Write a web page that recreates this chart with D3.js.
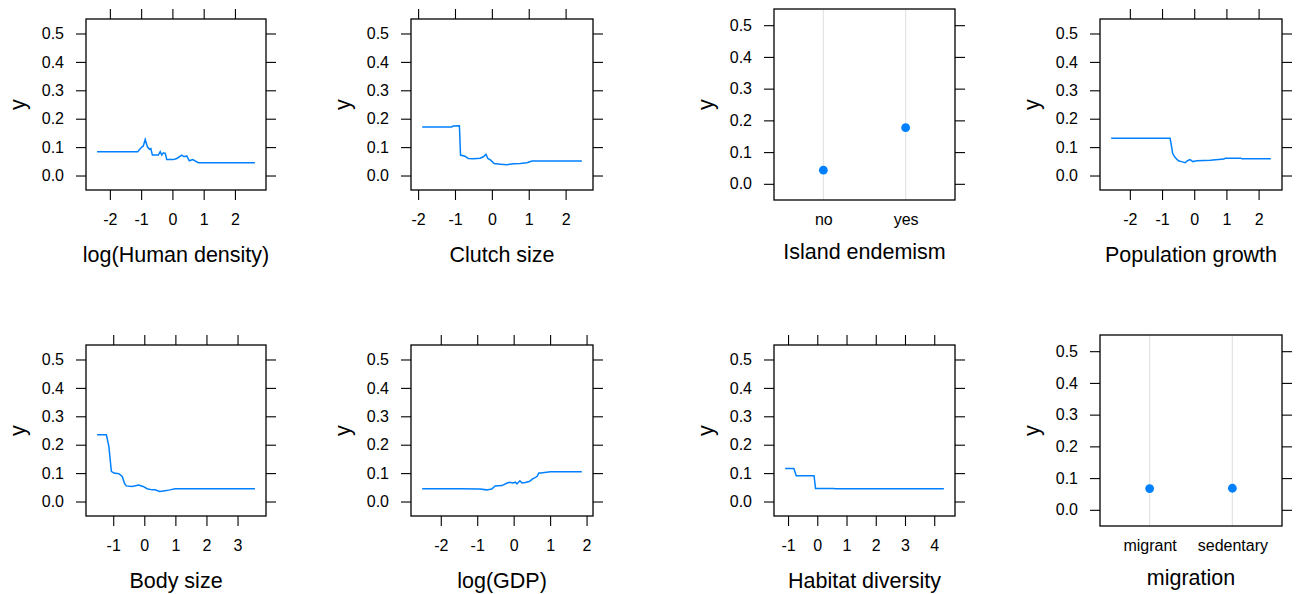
<!DOCTYPE html>
<html>
<head>
<meta charset="utf-8">
<script src="https://cdn.jsdelivr.net/npm/d3@7"></script>
<style>
  body { margin: 0; background: #fff; }
  svg { font-family: "Liberation Sans", Arial, sans-serif; }
</style>
</head>
<body>
<svg width="1298" height="594"></svg>
<script>
// y axis shared by all panels
const yTicks = [0, 0.1, 0.2, 0.3, 0.4, 0.5];
const yLimits = [-0.051, 0.551];

// partial dependence curves
const humanDensityX = [-2.41, -1.11, -0.98, -0.93, -0.87, -0.8, -0.74, -0.69, -0.64, -0.45, -0.39, -0.34, -0.29, -0.23, -0.18, 0.03, 0.14, 0.30, 0.37, 0.46, 0.54, 0.65, 0.83, 2.64];
const humanDensityY = [0.084, 0.084, 0.100, 0.104, 0.127, 0.101, 0.093, 0.095, 0.072, 0.072, 0.084, 0.072, 0.080, 0.078, 0.056, 0.056, 0.060, 0.072, 0.066, 0.069, 0.052, 0.056, 0.045, 0.045];

const clutchX = [-1.89, -1.09, -1.05, -0.88, -0.85, -0.73, -0.64, -0.5, -0.32, -0.23, -0.16, -0.11, -0.03, 0.06, 0.23, 0.41, 0.59, 0.77, 0.95, 1.09, 2.44];
const clutchY = [0.171, 0.171, 0.174, 0.175, 0.072, 0.068, 0.060, 0.059, 0.061, 0.066, 0.075, 0.060, 0.054, 0.042, 0.040, 0.038, 0.041, 0.042, 0.045, 0.051, 0.051];

const popGrowthX = [-2.58, -0.75, -0.72, -0.67, -0.6, -0.49, -0.37, -0.28, -0.21, -0.13, -0.04, 0.08, 0.5, 0.92, 0.97, 1.44, 1.49, 2.38];
const popGrowthY = [0.131, 0.131, 0.113, 0.078, 0.064, 0.052, 0.048, 0.045, 0.052, 0.056, 0.049, 0.052, 0.054, 0.058, 0.061, 0.061, 0.059, 0.059];

const bodySizeX = [-1.52, -1.22, -1.14, -1.06, -0.98, -0.82, -0.71, -0.64, -0.58, -0.39, -0.18, -0.04, 0.09, 0.25, 0.35, 0.49, 0.67, 0.83, 0.99, 3.56];
const bodySizeY = [0.235, 0.235, 0.194, 0.106, 0.100, 0.098, 0.088, 0.065, 0.055, 0.053, 0.058, 0.053, 0.045, 0.041, 0.041, 0.035, 0.038, 0.041, 0.045, 0.045];

const gdpX = [-2.51, -1.47, -0.92, -0.74, -0.6, -0.51, -0.32, -0.18, -0.11, -0.02, 0.05, 0.09, 0.17, 0.23, 0.32, 0.44, 0.51, 0.6, 0.64, 0.69, 0.75, 0.85, 1.01, 1.87];
const gdpY = [0.045, 0.045, 0.044, 0.041, 0.044, 0.055, 0.056, 0.065, 0.068, 0.065, 0.068, 0.062, 0.073, 0.065, 0.067, 0.071, 0.079, 0.085, 0.088, 0.100, 0.100, 0.102, 0.105, 0.105];

const habitatX = [-1.1, -0.8, -0.72, -0.11, -0.06, 0.57, 0.59, 4.33];
const habitatY = [0.116, 0.116, 0.091, 0.091, 0.046, 0.046, 0.045, 0.045];

// factor effects
const islandLevels = ["no", "yes"];
const islandY = [0.043, 0.177];
const migrationLevels = ["migrant", "sedentary"];
const migrationY = [0.067, 0.068];

// x tick labels per continuous panel
const humanDensityTicks = [-2, -1, 0, 1, 2];
const clutchTicks = [-2, -1, 0, 1, 2];
const popGrowthTicks = [-2, -1, 0, 1, 2];
const bodySizeTicks = [-1, 0, 1, 2, 3];
const gdpTicks = [-2, -1, 0, 1, 2];
const habitatTicks = [-1, 0, 1, 2, 3, 4];

const blue = "#0080ff";
const tickLen = 10;

const panels = [
  { title: "log(Human density)", xs: humanDensityX, ys: humanDensityY, ticks: humanDensityTicks, box: [86, 19, 266, 190] },
  { title: "Clutch size", xs: clutchX, ys: clutchY, ticks: clutchTicks, box: [411, 19, 593, 190] },
  { title: "Island endemism", levels: islandLevels, ys: islandY, box: [774, 9, 955, 200] },
  { title: "Population growth", xs: popGrowthX, ys: popGrowthY, ticks: popGrowthTicks, box: [1100, 19, 1282, 190] },
  { title: "Body size", xs: bodySizeX, ys: bodySizeY, ticks: bodySizeTicks, box: [86, 345, 266, 516] },
  { title: "log(GDP)", xs: gdpX, ys: gdpY, ticks: gdpTicks, box: [411, 345, 593, 516] },
  { title: "Habitat diversity", xs: habitatX, ys: habitatY, ticks: habitatTicks, box: [774, 345, 955, 516] },
  { title: "migration", levels: migrationLevels, ys: migrationY, box: [1100, 335, 1282, 526] }
];

const svg = d3.select("svg");
const fmtX = d => String(d);
const fmtY = d3.format(".1f");

panels.forEach(p => {
  const [x0, y0, x1, y1] = p.box;
  const w = x1 - x0, h = y1 - y0;
  const g = svg.append("g").attr("transform", `translate(${x0},${y0})`);
  const y = d3.scaleLinear().domain(yLimits).range([h, 0]);
  const isFactor = !!p.levels;

  let x;
  if (isFactor) {
    x = d3.scalePoint().domain(p.levels).range([0, w]).padding(0.6);
    // light reference lines at each level
    g.selectAll(".ref").data(p.levels).enter().append("line")
      .attr("x1", d => x(d)).attr("x2", d => x(d))
      .attr("y1", 0).attr("y2", h)
      .attr("stroke", "#e3e3e3").attr("stroke-width", 1.2);
  } else {
    const ext = d3.extent(p.xs);
    const pad = (ext[1] - ext[0]) * 0.07;
    x = d3.scaleLinear().domain([ext[0] - pad, ext[1] + pad]).range([0, w]);
  }

  // y axes (left labelled, right ticks only)
  const left = g.append("g").call(d3.axisLeft(y).tickValues(yTicks).tickFormat(fmtY).tickSize(tickLen).tickPadding(12));
  const right = g.append("g").attr("transform", `translate(${w},0)`)
    .call(d3.axisRight(y).tickValues(yTicks).tickFormat("").tickSize(tickLen));

  let axes = [left, right];
  if (isFactor) {
    const bottom = g.append("g").attr("transform", `translate(0,${h})`)
      .call(d3.axisBottom(x).tickSize(0).tickPadding(19));
    bottom.selectAll("text").attr("dy", "0.35em").attr("y", 19);
    axes.push(bottom);
  } else {
    const bottom = g.append("g").attr("transform", `translate(0,${h})`)
      .call(d3.axisBottom(x).tickValues(p.ticks).tickFormat(fmtX).tickSize(tickLen));
    bottom.selectAll("text").attr("y", 29).attr("dy", "0.35em");
    const top = g.append("g")
      .call(d3.axisTop(x).tickValues(p.ticks).tickFormat("").tickSize(tickLen));
    axes.push(bottom, top);
  }
  axes.forEach(a => {
    a.select(".domain").remove();
    a.selectAll("line").attr("stroke", "#000").attr("stroke-width", 1.1);
    a.selectAll("text").attr("font-size", "16px").attr("fill", "#000")
      .attr("font-family", "'Liberation Sans', Arial, sans-serif");
  });

  // marks
  if (isFactor) {
    g.selectAll(".pt").data(p.levels).enter().append("circle")
      .attr("cx", d => x(d))
      .attr("cy", (d, i) => y(p.ys[i]))
      .attr("r", 4.4)
      .attr("fill", blue);
  } else {
    const line = d3.line().x(d => x(d[0])).y(d => y(d[1]));
    g.append("path")
      .datum(d3.zip(p.xs, p.ys))
      .attr("d", line)
      .attr("fill", "none")
      .attr("stroke", blue)
      .attr("stroke-width", 1.5);
  }

  // panel box
  g.append("rect").attr("width", w).attr("height", h)
    .attr("fill", "none").attr("stroke", "#000").attr("stroke-width", 1.3);

  // axis titles
  g.append("text")
    .attr("x", w / 2).attr("y", h + (isFactor ? 51 : 64))
    .attr("dy", "0.35em")
    .attr("text-anchor", "middle")
    .attr("font-size", "21.5px")
    .text(p.title);

  g.append("text")
    .attr("transform", `translate(-69,${h / 2}) rotate(-90)`)
    .attr("dy", "0.35em")
    .attr("text-anchor", "middle")
    .attr("font-size", "21.5px")
    .text("y");
});
</script>
</body>
</html>
